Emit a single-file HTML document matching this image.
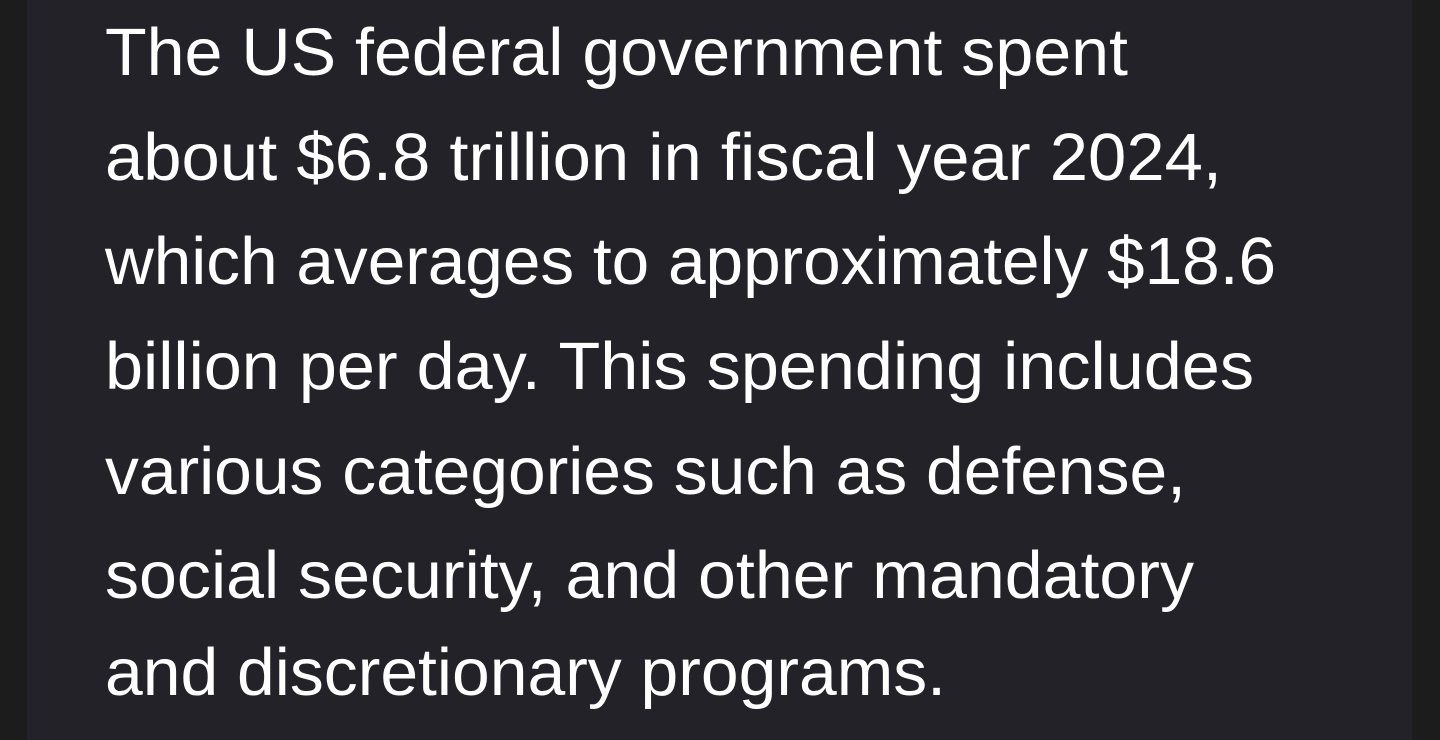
<!DOCTYPE html>
<html><head><meta charset="utf-8"><style>
html,body{margin:0;padding:0;width:1440px;height:740px;overflow:hidden;background:#1c1c1c}
.panel{position:absolute;left:27px;top:0;width:1385px;height:740px;background:#232228}
svg{position:absolute;left:0;top:0}
text{font-family:"Liberation Sans",sans-serif;font-size:67px;fill:#ffffff}
</style></head><body>
<div class="panel"></div>
<svg width="1440" height="740">
<text x="105" y="75" textLength="1023" lengthAdjust="spacingAndGlyphs">The US federal government spent</text>
<text x="105" y="180" textLength="1117" lengthAdjust="spacingAndGlyphs">about $6.8 trillion in fiscal year 2024,</text>
<text x="105" y="284" textLength="1171" lengthAdjust="spacingAndGlyphs">which averages to approximately $18.6</text>
<text x="105" y="389" textLength="1149" lengthAdjust="spacingAndGlyphs">billion per day. This spending includes</text>
<text x="105" y="494" textLength="1081" lengthAdjust="spacingAndGlyphs">various categories such as defense,</text>
<text x="105" y="598" textLength="1089" lengthAdjust="spacingAndGlyphs">social security, and other mandatory</text>
<text x="105" y="695" textLength="841" lengthAdjust="spacingAndGlyphs">and discretionary programs.</text>
</svg>
</body></html>
